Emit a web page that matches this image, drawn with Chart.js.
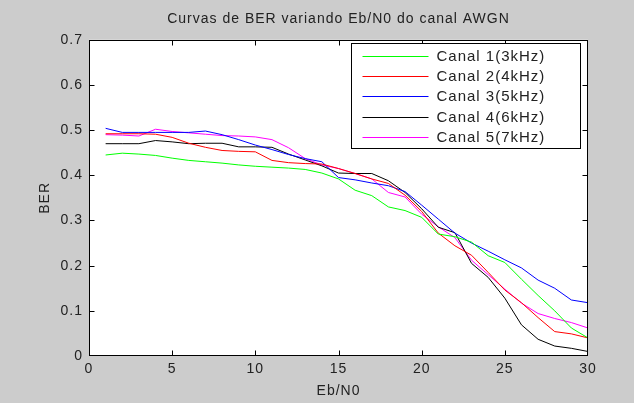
<!DOCTYPE html>
<html>
<head>
<meta charset="utf-8">
<script src="https://cdn.jsdelivr.net/npm/chart.js@4.4.0/dist/chart.umd.min.js"></script>
<style>
    html, body { margin: 0; padding: 0; background: #cccccc; }
    canvas { display: block; }
</style>
</head>
<body>
<canvas id="berChart" width="634" height="403"></canvas>
<script>
// BER curves per channel

const ebN0 = [1, 2, 3, 4, 5, 6, 7, 8, 9, 10, 11, 12, 13, 14, 15, 16, 17, 18, 19, 20, 21, 22, 23, 24, 25, 26, 27, 28, 29, 30];

const canal1 = [0.445, 0.449, 0.447, 0.444, 0.438, 0.433, 0.430, 0.427, 0.423, 0.420, 0.418, 0.416, 0.413, 0.405, 0.392, 0.367, 0.355, 0.330, 0.322, 0.307, 0.270, 0.264, 0.252, 0.222, 0.207, 0.170, 0.134, 0.100, 0.062, 0.040];
const canal2 = [0.492, 0.492, 0.492, 0.491, 0.484, 0.471, 0.462, 0.455, 0.453, 0.452, 0.433, 0.428, 0.426, 0.425, 0.415, 0.404, 0.392, 0.382, 0.356, 0.320, 0.272, 0.244, 0.223, 0.185, 0.146, 0.118, 0.085, 0.054, 0.049, 0.040];
const canal3 = [0.504, 0.495, 0.495, 0.495, 0.495, 0.495, 0.498, 0.490, 0.479, 0.467, 0.457, 0.446, 0.437, 0.430, 0.395, 0.390, 0.383, 0.377, 0.364, 0.334, 0.303, 0.272, 0.250, 0.232, 0.213, 0.195, 0.168, 0.150, 0.124, 0.118];
const canal4 = [0.470, 0.470, 0.470, 0.477, 0.474, 0.470, 0.471, 0.471, 0.463, 0.463, 0.462, 0.447, 0.434, 0.421, 0.405, 0.404, 0.404, 0.388, 0.362, 0.326, 0.285, 0.273, 0.205, 0.174, 0.128, 0.069, 0.037, 0.022, 0.017, 0.010];
const canal5 = [0.490, 0.489, 0.487, 0.502, 0.497, 0.494, 0.491, 0.488, 0.487, 0.485, 0.479, 0.461, 0.437, 0.423, 0.415, 0.404, 0.392, 0.362, 0.352, 0.314, 0.286, 0.262, 0.212, 0.180, 0.148, 0.117, 0.094, 0.083, 0.074, 0.062];

const channelLabels = ['Canal 1(3kHz)', 'Canal 2(4kHz)', 'Canal 3(5kHz)', 'Canal 4(6kHz)', 'Canal 5(7kHz)'];
const channelColors = ['#00ff00', '#ff0000', '#0000ff', '#000000', '#ff00ff'];

const xTicks = [0, 5, 10, 15, 20, 25, 30];
const yTicks = [0, 0.1, 0.2, 0.3, 0.4, 0.5, 0.6, 0.7];
const yTickLabels = ['0', '0.1', '0.2', '0.3', '0.4', '0.5', '0.6', '0.7'];

const FONT = '"Liberation Sans", Arial, sans-serif';
const TEXT_COLOR = '#222';

// MATLAB look: grey figure, white axes, box with inward ticks, legend inside
const matlabAxes = {
    id: 'matlabAxes',
    beforeDraw(chart) {
        const { ctx, chartArea: a } = chart;
        ctx.save();
        ctx.fillStyle = '#cccccc';
        ctx.fillRect(0, 0, chart.width, chart.height);
        ctx.fillStyle = '#ffffff';
        ctx.fillRect(a.left, a.top, a.right - a.left, a.bottom - a.top);
        ctx.restore();
        ctx.letterSpacing = '1px';
    },
    afterDatasetsDraw(chart) {
        const { ctx, chartArea: a, scales } = chart;
        const left = Math.round(a.left) + 0.5;
        const right = Math.round(a.right) - 0.5;
        const top = Math.round(a.top) + 0.5;
        const bottom = Math.round(a.bottom) - 0.5;
        const tick = 5;

        ctx.save();
        ctx.strokeStyle = '#000';
        ctx.lineWidth = 1;
        ctx.strokeRect(left, top, right - left, bottom - top);

        ctx.beginPath();
        xTicks.slice(1, -1).forEach(v => {
            const x = Math.round(scales.x.getPixelForValue(v)) + 0.5;
            ctx.moveTo(x, bottom); ctx.lineTo(x, bottom - tick);
            ctx.moveTo(x, top); ctx.lineTo(x, top + tick);
        });
        yTicks.slice(1, -1).forEach(v => {
            const y = Math.round(scales.y.getPixelForValue(v)) + 0.5;
            ctx.moveTo(left, y); ctx.lineTo(left + tick, y);
            ctx.moveTo(right, y); ctx.lineTo(right - tick, y);
        });
        ctx.stroke();

        // legend box
        const boxW = 229, boxH = 105;
        const bx = right - 7 - boxW;
        const by = top + 3;
        ctx.fillStyle = '#fff';
        ctx.fillRect(bx, by, boxW, boxH);
        ctx.strokeRect(bx, by, boxW, boxH);

        ctx.font = '15px ' + FONT;
        ctx.textBaseline = 'middle';
        ctx.textAlign = 'left';
        chart.data.datasets.forEach((ds, i) => {
            const y = Math.round(by + 12 + i * 20.4) + 0.5;
            ctx.strokeStyle = ds.borderColor;
            ctx.beginPath();
            ctx.moveTo(bx + 11, y);
            ctx.lineTo(bx + 77, y);
            ctx.stroke();
            ctx.fillStyle = TEXT_COLOR;
            ctx.fillText(ds.label, bx + 85, y);
        });
        ctx.restore();
    }
};

const datasets = [canal1, canal2, canal3, canal4, canal5].map((values, i) => ({
    label: channelLabels[i],
    data: values.map((v, j) => ({ x: ebN0[j], y: v })),
    borderColor: channelColors[i],
    backgroundColor: channelColors[i],
    borderWidth: 1,
    pointRadius: 0,
    tension: 0,
    fill: false
}));

const ctx = document.getElementById('berChart').getContext('2d');
const berChart = new Chart(ctx, {
    type: 'line',
    data: { datasets: datasets },
    options: {
        responsive: false,
        animation: false,
        layout: { padding: { left: 0, right: 46, top: 0, bottom: 0 } },
        plugins: {
            legend: { display: false },
            tooltip: { enabled: false },
            title: {
                display: true,
                text: 'Curvas de BER variando Eb/N0 do canal AWGN',
                color: TEXT_COLOR,
                fullSize: false,
                font: { family: FONT, size: 14, weight: 'normal' },
                padding: { top: 11, bottom: 12 }
            }
        },
        scales: {
            x: {
                type: 'linear',
                min: 0,
                max: 30,
                afterBuildTicks: scale => { scale.ticks = xTicks.map(v => ({ value: v })); },
                afterFit: scale => { scale.height = 47; },
                grid: { display: false, drawTicks: false },
                border: { display: false },
                ticks: {
                    color: TEXT_COLOR,
                    padding: 5,
                    maxRotation: 0,
                    font: { family: FONT, size: 14 }
                },
                title: {
                    display: true,
                    text: 'Eb/N0',
                    color: TEXT_COLOR,
                    font: { family: FONT, size: 14 },
                    padding: { top: 0, bottom: 3 }
                }
            },
            y: {
                type: 'linear',
                min: 0,
                max: 0.7,
                afterBuildTicks: scale => { scale.ticks = yTicks.map(v => ({ value: v })); },
                afterFit: scale => { scale.width = 89; },
                grid: { display: false, drawTicks: false },
                border: { display: false },
                ticks: {
                    color: TEXT_COLOR,
                    padding: 6,
                    font: { family: FONT, size: 14 },
                    callback: (value, index) => yTickLabels[index]
                },
                title: {
                    display: true,
                    text: 'BER',
                    color: TEXT_COLOR,
                    font: { family: FONT, size: 14 },
                    padding: { top: 37, bottom: 0 }
                }
            }
        }
    },
    plugins: [matlabAxes]
});
</script>
</body>
</html>
